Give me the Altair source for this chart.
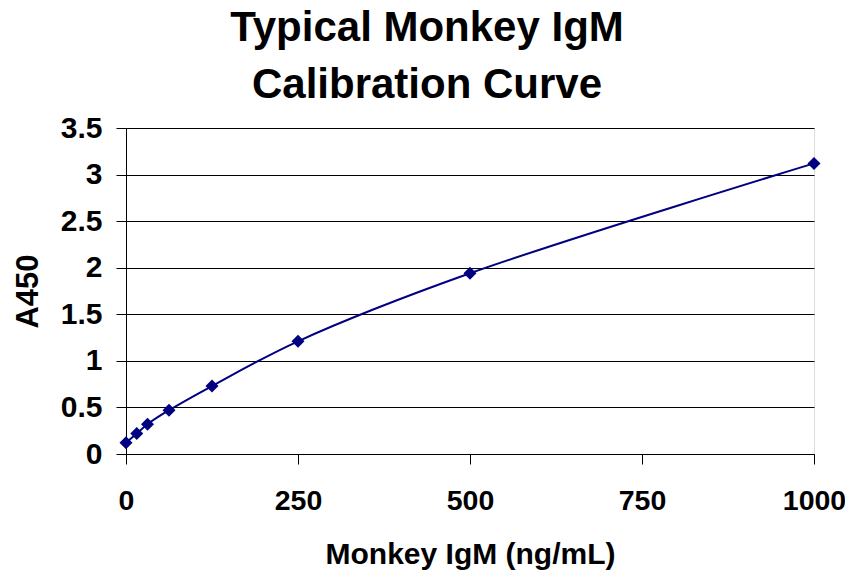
import altair as alt
import pandas as pd

conc = [0, 15.625, 31.25, 62.5, 125, 250, 500, 1000]
a450 = [0.12, 0.22, 0.32, 0.47, 0.73, 1.21, 1.94, 3.12]

df = pd.DataFrame({"conc": conc, "a450": a450})

FONT = "Liberation Sans"
NAVY = "#000080"

x = alt.X("conc:Q", title="Monkey IgM (ng/mL)",
          scale=alt.Scale(domain=[0, 1000], nice=False, zero=True),
          axis=alt.Axis(values=[0, 250, 500, 750, 1000], grid=False, format="d",
                        domainColor="black", tickColor="black", tickSize=10,
                        labelFontSize=28.5, labelFont=FONT, labelFontWeight="bold",
                        labelColor="black", labelPadding=22,
                        titleFontSize=30, titleFont=FONT, titleFontWeight="bold",
                        titleColor="black", titlePadding=25, labelFlush=False))
y = alt.Y("a450:Q", title="A450",
          scale=alt.Scale(domain=[0, 3.5], nice=False),
          axis=alt.Axis(values=[0, 0.5, 1, 1.5, 2, 2.5, 3, 3.5], grid=True,
                        format="~g",
                        gridColor="black", gridWidth=1.2,
                        domainColor="black", tickColor="black", tickSize=10,
                        labelFontSize=30, labelFont=FONT, labelFontWeight="bold",
                        labelColor="black", labelPadding=14,
                        titleFontSize=31, titleFont=FONT, titleFontWeight="bold",
                        titleColor="black", titlePadding=16))

line = alt.Chart(df).mark_line(color=NAVY, strokeWidth=2,
                               interpolate="catmull-rom").encode(x=x, y=y)
pts = alt.Chart(df).mark_point(shape="diamond", filled=True, color=NAVY,
                               size=170, opacity=1).encode(x=x, y=y)

chart = alt.layer(line, pts).properties(
    width=688, height=326,
    autosize=alt.AutoSizeParams(type="none"),
    padding={"left": 118, "top": 120, "right": 31, "bottom": 117},
    title=alt.TitleParams(
        text=["Typical Monkey IgM", "Calibration Curve"],
        font=FONT, fontSize=42, fontWeight="bold", color="black",
        lineHeight=57, anchor="middle", frame="group", dx=-43, offset=6),
).configure_view(stroke="#808080", strokeWidth=1.5).configure(background="white")

chart.save("out.html", embed_options={"renderer": "svg", "actions": False})
